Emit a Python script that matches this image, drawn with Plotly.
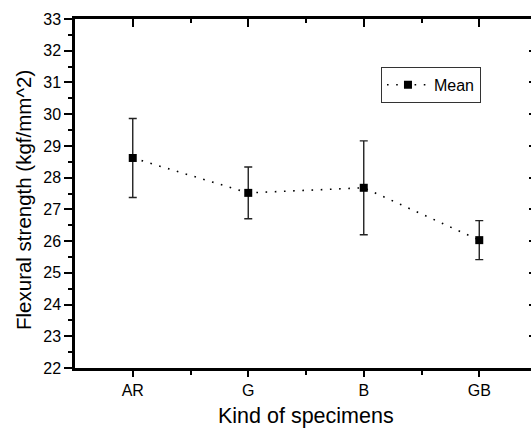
import plotly.graph_objects as go

categories = ["AR", "G", "B", "GB"]
mean_values = [28.62, 27.52, 27.68, 26.03]
error_values = [1.245, 0.815, 1.48, 0.615]
y_ticks = list(range(22, 34))

xpos = list(range(len(categories)))
xrange_ = [-0.5, 3.448]
yrange_ = [22, 33]
font_family = "Liberation Sans, Arial, sans-serif"

fig = go.Figure()
fig.add_trace(go.Scatter(
    x=xpos, y=mean_values, name="Mean", mode="lines+markers",
    line=dict(color="black", width=1.6, dash="1.6px,7.6px"),
    marker=dict(symbol="square", size=8, color="black"),
    error_y=dict(type="data", array=error_values, visible=True,
                 color="#222", thickness=1.4, width=4),
))

fig.update_layout(
    width=531, height=428,
    margin=dict(l=75, r=0, t=19, b=60, autoexpand=False),
    paper_bgcolor="white", plot_bgcolor="white",
    font=dict(family=font_family, color="black", size=14),
    showlegend=True,
    legend=dict(x=0.671, y=0.863, xanchor="left", yanchor="top",
                bordercolor="#333", borderwidth=1, bgcolor="white",
                font=dict(size=16), itemwidth=42, tracegroupgap=0),
    xaxis=dict(range=xrange_, tickmode="array", tickvals=xpos, ticktext=categories,
               showline=True, linecolor="black", linewidth=2.5,
               ticks="outside", ticklen=6, tickwidth=2, tickcolor="black",
               minor=dict(tickvals=[0.5, 1.5, 2.5], ticks="outside", ticklen=4,
                          tickwidth=2, tickcolor="black"),
               showgrid=False, zeroline=False, automargin=False,
               tickfont=dict(size=16)),
    yaxis=dict(range=yrange_, tickmode="array", tickvals=y_ticks,
               showline=True, linecolor="black", linewidth=2.5,
               ticks="outside", ticklen=8, tickwidth=2, tickcolor="black",
               minor=dict(dtick=0.5, tick0=22.5, ticks="outside", ticklen=4,
                          tickwidth=2, tickcolor="black"),
               showgrid=False, zeroline=False, automargin=False,
               tickfont=dict(size=16)),
    xaxis2=dict(range=xrange_, overlaying="x", side="top", anchor="y",
                tickmode="array", tickvals=xpos, showticklabels=False,
                showline=True, linecolor="black", linewidth=2.5,
                ticks="inside", ticklen=8, tickwidth=2, tickcolor="black",
                minor=dict(tickvals=[0.5, 1.5, 2.5], ticks="inside", ticklen=4,
                           tickwidth=2, tickcolor="black"),
                showgrid=False, zeroline=False, automargin=False),
    yaxis2=dict(range=yrange_, overlaying="y", side="right", anchor="x",
                tickmode="array", tickvals=y_ticks[1:-1], showticklabels=False,
                showline=False, ticks="inside", ticklen=2, tickwidth=2,
                tickcolor="black", showgrid=False, zeroline=False, automargin=False),
    annotations=[
        dict(text="Kind of specimens", xref="paper", yref="paper",
             x=(305.5 - 75) / 456, y=-(423 - 368) / 349, xanchor="center", yanchor="bottom",
             yshift=-7, showarrow=False, font=dict(size=21.5)),
        dict(text="Flexural strength (kgf/mm^2)", xref="paper", yref="paper",
             x=-(75 - 23) / 456, y=1 - (200 - 19) / 349, xanchor="center", yanchor="middle",
             textangle=-90, showarrow=False, font=dict(size=20.5)),
    ],
)

fig.add_trace(go.Scatter(x=[xpos[0]], y=[mean_values[0]], xaxis="x2", yaxis="y2",
                         mode="markers", marker=dict(opacity=0), showlegend=False,
                         hoverinfo="skip"))

fig.write_html("out.html", config={"displayModeBar": False},
               post_script="document.body.style.margin='0';document.body.style.padding='0';document.body.style.overflow='hidden';")
